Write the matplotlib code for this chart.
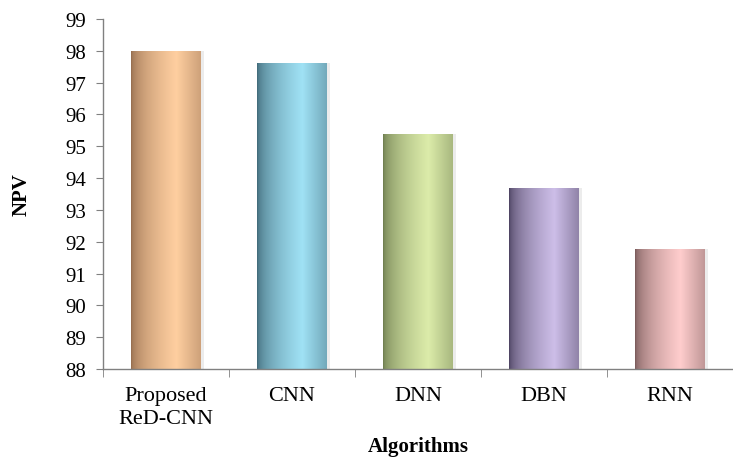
import matplotlib
matplotlib.use("Agg")
import matplotlib.pyplot as plt
import numpy as np

algorithms = ["Proposed\nReD-CNN", "CNN", "DNN", "DBN", "RNN"]
npv = [98.0, 97.62, 95.4, 93.7, 91.76]

# dark edge / light highlight of each cylinder-style bar
dark_colors = [(145, 105, 75), (60, 100, 115), (105, 120, 75),
               (70, 60, 90), (115, 85, 85)]
light_colors = [(255, 207, 160), (160, 226, 245), (220, 236, 170),
                (205, 190, 232), (255, 205, 205)]

base = 88

plt.rcParams['font.family'] = ['Liberation Serif', 'DejaVu Serif']

fig = plt.figure(figsize=(7.33, 4.64), dpi=100)
ax = fig.add_axes([0.1405, 0.2026, 0.8595, 0.7543])

x = np.arange(len(algorithms))
heights = np.array(npv) - base
bars = ax.bar(x, heights, width=0.55, bottom=base, color='none',
              edgecolor='none', zorder=2)

# horizontal shading: dark on the left, highlight at ~65%, dimmer at right
t = np.linspace(0, 1, 200)
f = np.where(t < 0.65, np.sqrt(t / 0.65), 1 - 0.45 * (t - 0.65) / 0.35)
for bar, dk, lt in zip(bars, dark_colors, light_colors):
    dk = np.array(dk) / 255.0
    lt = np.array(lt) / 255.0
    grad = dk[None, :] + (lt - dk)[None, :] * f[:, None]
    img = grad[None, :, :]
    x0, w = bar.get_x(), bar.get_width()
    y0, h = bar.get_y(), bar.get_height()
    im = ax.imshow(img, extent=[x0, x0 + w, y0, y0 + h], aspect='auto',
                   zorder=2, interpolation='bilinear')
    im.set_clip_path(bar)
    # soft shadow behind the bar
    ax.bar(x0 + w / 2 + 0.015, h, width=w + 0.02, bottom=y0,
           color='#ececec', zorder=1)

ax.set_ylim(88, 99)
ax.set_xlim(-0.5, 4.46)
ax.set_yticks(np.arange(88, 100, 1))
ax.set_xticks(x)
ax.set_xticklabels(algorithms, fontsize=16, linespacing=1.3)
ax.set_xticks(np.arange(-0.5, 5, 1), minor=True)
ax.tick_params(axis='x', which='major', length=0, pad=12)
ax.tick_params(axis='x', which='minor', length=6, color='#808080')
ax.tick_params(axis='y', labelsize=15, length=5, color='#808080', pad=7)

for side in ['top', 'right']:
    ax.spines[side].set_visible(False)
for side in ['left', 'bottom']:
    ax.spines[side].set_color('#808080')
    ax.spines[side].set_linewidth(1.0)

ax.set_ylabel("NPV", fontsize=15, fontweight='bold', labelpad=24)
ax.set_xlabel("Algorithms", fontsize=15, fontweight='bold', labelpad=6)

fig.savefig("out.png", dpi=100)
